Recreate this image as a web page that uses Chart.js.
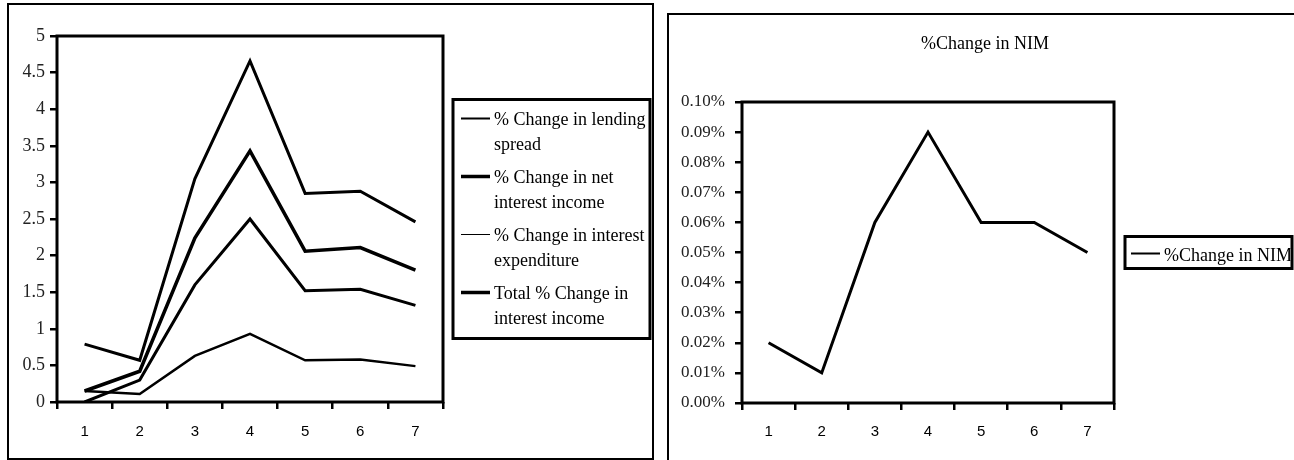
<!DOCTYPE html>
<html>
<head>
<meta charset="utf-8">
<script src="https://cdn.jsdelivr.net/npm/chart.js@4.4.1/dist/chart.umd.min.js"></script>
<style>
  html, body { margin: 0; padding: 0; background: #fff; }
  body { width: 1294px; height: 460px; overflow: hidden; position: relative; }
  .box { position: absolute; border: 2px solid #000; box-sizing: border-box; background: #fff; }
  #leftBox { left: 7px; top: 3px; width: 647px; height: 457px; }
  #rightBox { left: 667px; top: 13px; width: 700px; height: 500px; }
  canvas { position: absolute; left: 0; top: 0; }
</style>
</head>
<body>
<div class="box" id="leftBox"><canvas id="chartLeft" width="643" height="453"></canvas></div>
<div class="box" id="rightBox"><canvas id="chartRight" width="625" height="445"></canvas></div>
<script>
var categories = ['1', '2', '3', '4', '5', '6', '7'];

var lendingSpread = [0.79, 0.57, 3.05, 4.66, 2.85, 2.88, 2.46];
var netInterestIncome = [0.0, 0.30, 1.60, 2.50, 1.52, 1.54, 1.32];
var interestExpenditure = [0.15, 0.11, 0.63, 0.93, 0.57, 0.58, 0.49];
var totalInterestIncome = [0.15, 0.42, 2.24, 3.43, 2.06, 2.11, 1.80];

var nimChange = [0.02, 0.01, 0.06, 0.09, 0.06, 0.06, 0.05];

var leftTicks = [0, 0.5, 1, 1.5, 2, 2.5, 3, 3.5, 4, 4.5, 5];
var nimTicks = [0, 0.01, 0.02, 0.03, 0.04, 0.05, 0.06, 0.07, 0.08, 0.09, 0.10];

var leftLegend = [
    ['% Change in lending', 'spread'],
    ['% Change in net', 'interest income'],
    ['% Change in interest', 'expenditure'],
    ['Total % Change in', 'interest income']
];
var nimLegend = [['%Change in NIM']];
var nimTitle = '%Change in NIM';

Chart.defaults.font.family = "'Liberation Serif', 'Times New Roman', serif";
Chart.defaults.color = '#000';

// box round the plot area
const plotFrame = {
    id: 'plotFrame',
    afterDatasetsDraw(chart) {
        const a = chart.chartArea;
        const c = chart.ctx;
        c.save();
        c.lineWidth = 3;
        c.strokeStyle = '#000';
        c.strokeRect(a.left, a.top, a.right - a.left, a.bottom - a.top);
        c.restore();
    }
};

// legend in a bordered box, with wrapped text
const boxLegend = {
    id: 'boxLegend',
    afterDraw(chart, args, opts) {
        const a = chart.chartArea;
        const c = chart.ctx;
        const x = a.right + opts.gap;
        const y = (a.top + a.bottom) / 2 - opts.height / 2;
        c.save();
        c.strokeStyle = '#000';
        c.fillStyle = '#000';
        c.lineWidth = 3;
        c.strokeRect(x, y, opts.width, opts.height);
        c.beginPath();
        c.rect(x, y, opts.width - 1.5, opts.height);
        c.clip();
        c.font = opts.font;
        c.textBaseline = 'alphabetic';
        chart.data.datasets.forEach((ds, i) => {
            const ly = y + opts.first + i * opts.step;
            c.lineWidth = opts.sampleWidths[i];
            c.beginPath();
            c.moveTo(x + opts.sampleFrom, ly);
            c.lineTo(x + opts.sampleTo, ly);
            c.stroke();
            opts.text[i].forEach((t, j) => {
                c.fillText(t, x + opts.textX, ly + opts.baseline + j * 25);
            });
        });
        c.restore();
    }
};

const chartTitle = {
    id: 'chartTitle',
    afterDraw(chart, args, opts) {
        const c = chart.ctx;
        c.save();
        c.font = opts.font;
        c.fillStyle = '#000';
        c.textAlign = 'center';
        c.textBaseline = 'alphabetic';
        c.fillText(opts.text, opts.x, opts.y);
        c.restore();
    }
};

function lineSet(label, data, width) {
    return {
        label: label,
        data: data,
        borderColor: '#000',
        backgroundColor: '#000',
        borderWidth: width,
        fill: false,
        tension: 0,
        pointRadius: 0,
        pointHoverRadius: 0
    };
}

function xScale(pad) {
    return {
        type: 'category',
        offset: true,
        afterFit: s => { s.height = 40; },
        grid: { offset: true, drawOnChartArea: false, drawTicks: true, tickLength: 7, lineWidth: 2.5, color: '#000' },
        border: { display: false },
        ticks: { padding: pad, color: '#000', font: { family: "'Liberation Sans', Arial, sans-serif", size: 15 } }
    };
}

const chartLeft = document.getElementById('chartLeft');

let leftChart = new Chart(chartLeft, {
    type: 'line',
    data: {
        labels: categories,
        datasets: [
            lineSet(leftLegend[0].join(' '), lendingSpread, 3),
            lineSet(leftLegend[1].join(' '), netInterestIncome, 3),
            lineSet(leftLegend[2].join(' '), interestExpenditure, 2.5),
            lineSet(leftLegend[3].join(' '), totalInterestIncome, 3.5)
        ]
    },
    options: {
        responsive: false,
        animation: false,
        layout: { padding: { top: 31, right: 209, bottom: 16, left: 0 } },
        scales: {
            x: xScale(14),
            y: {
                min: 0,
                max: 5,
                afterFit: s => { s.width = 48; },
                afterBuildTicks: s => { s.ticks = leftTicks.map(v => ({ value: v })); },
                grid: { drawOnChartArea: false, drawTicks: true, tickLength: 7, lineWidth: 2.5, color: '#000' },
                border: { display: false },
                ticks: {
                    padding: 5,
                    color: '#222',
                    font: { size: 18 },
                    callback: v => String(Math.round(v * 10) / 10)
                }
            }
        },
        plugins: {
            legend: { display: false },
            tooltip: { enabled: false },
            boxLegend: {
                gap: 10, width: 197, height: 239, first: 19, step: 58,
                sampleFrom: 8, sampleTo: 37, textX: 41, baseline: 6,
                sampleWidths: [2, 3.5, 1, 3.5],
                font: "18px 'Liberation Serif'",
                text: leftLegend
            }
        }
    },
    plugins: [plotFrame, boxLegend]
});

const chartRight = document.getElementById('chartRight');

let rightChart = new Chart(chartRight, {
    type: 'line',
    data: {
        labels: categories,
        datasets: [
            lineSet(nimLegend[0][0], nimChange, 3)
        ]
    },
    options: {
        responsive: false,
        animation: false,
        layout: { padding: { top: 87, right: 180, bottom: 17, left: 0 } },
        scales: {
            x: xScale(13),
            y: {
                min: 0,
                max: 0.1,
                afterFit: s => { s.width = 73; },
                afterBuildTicks: s => { s.ticks = nimTicks.map(v => ({ value: v })); },
                grid: { drawOnChartArea: false, drawTicks: true, tickLength: 7, lineWidth: 2.5, color: '#000' },
                border: { display: false },
                ticks: {
                    padding: 10,
                    color: '#222',
                    font: { size: 17 },
                    callback: v => v.toFixed(2) + '%'
                }
            }
        },
        plugins: {
            legend: { display: false },
            tooltip: { enabled: false },
            chartTitle: { text: nimTitle, x: 316, y: 34, font: "18px 'Liberation Serif'" },
            boxLegend: {
                gap: 11, width: 167, height: 32, first: 17, step: 0,
                sampleFrom: 6, sampleTo: 35, textX: 39, baseline: 7,
                sampleWidths: [2],
                font: "18px 'Liberation Serif'",
                text: nimLegend
            }
        }
    },
    plugins: [plotFrame, boxLegend, chartTitle]
});
</script>
</body>
</html>
